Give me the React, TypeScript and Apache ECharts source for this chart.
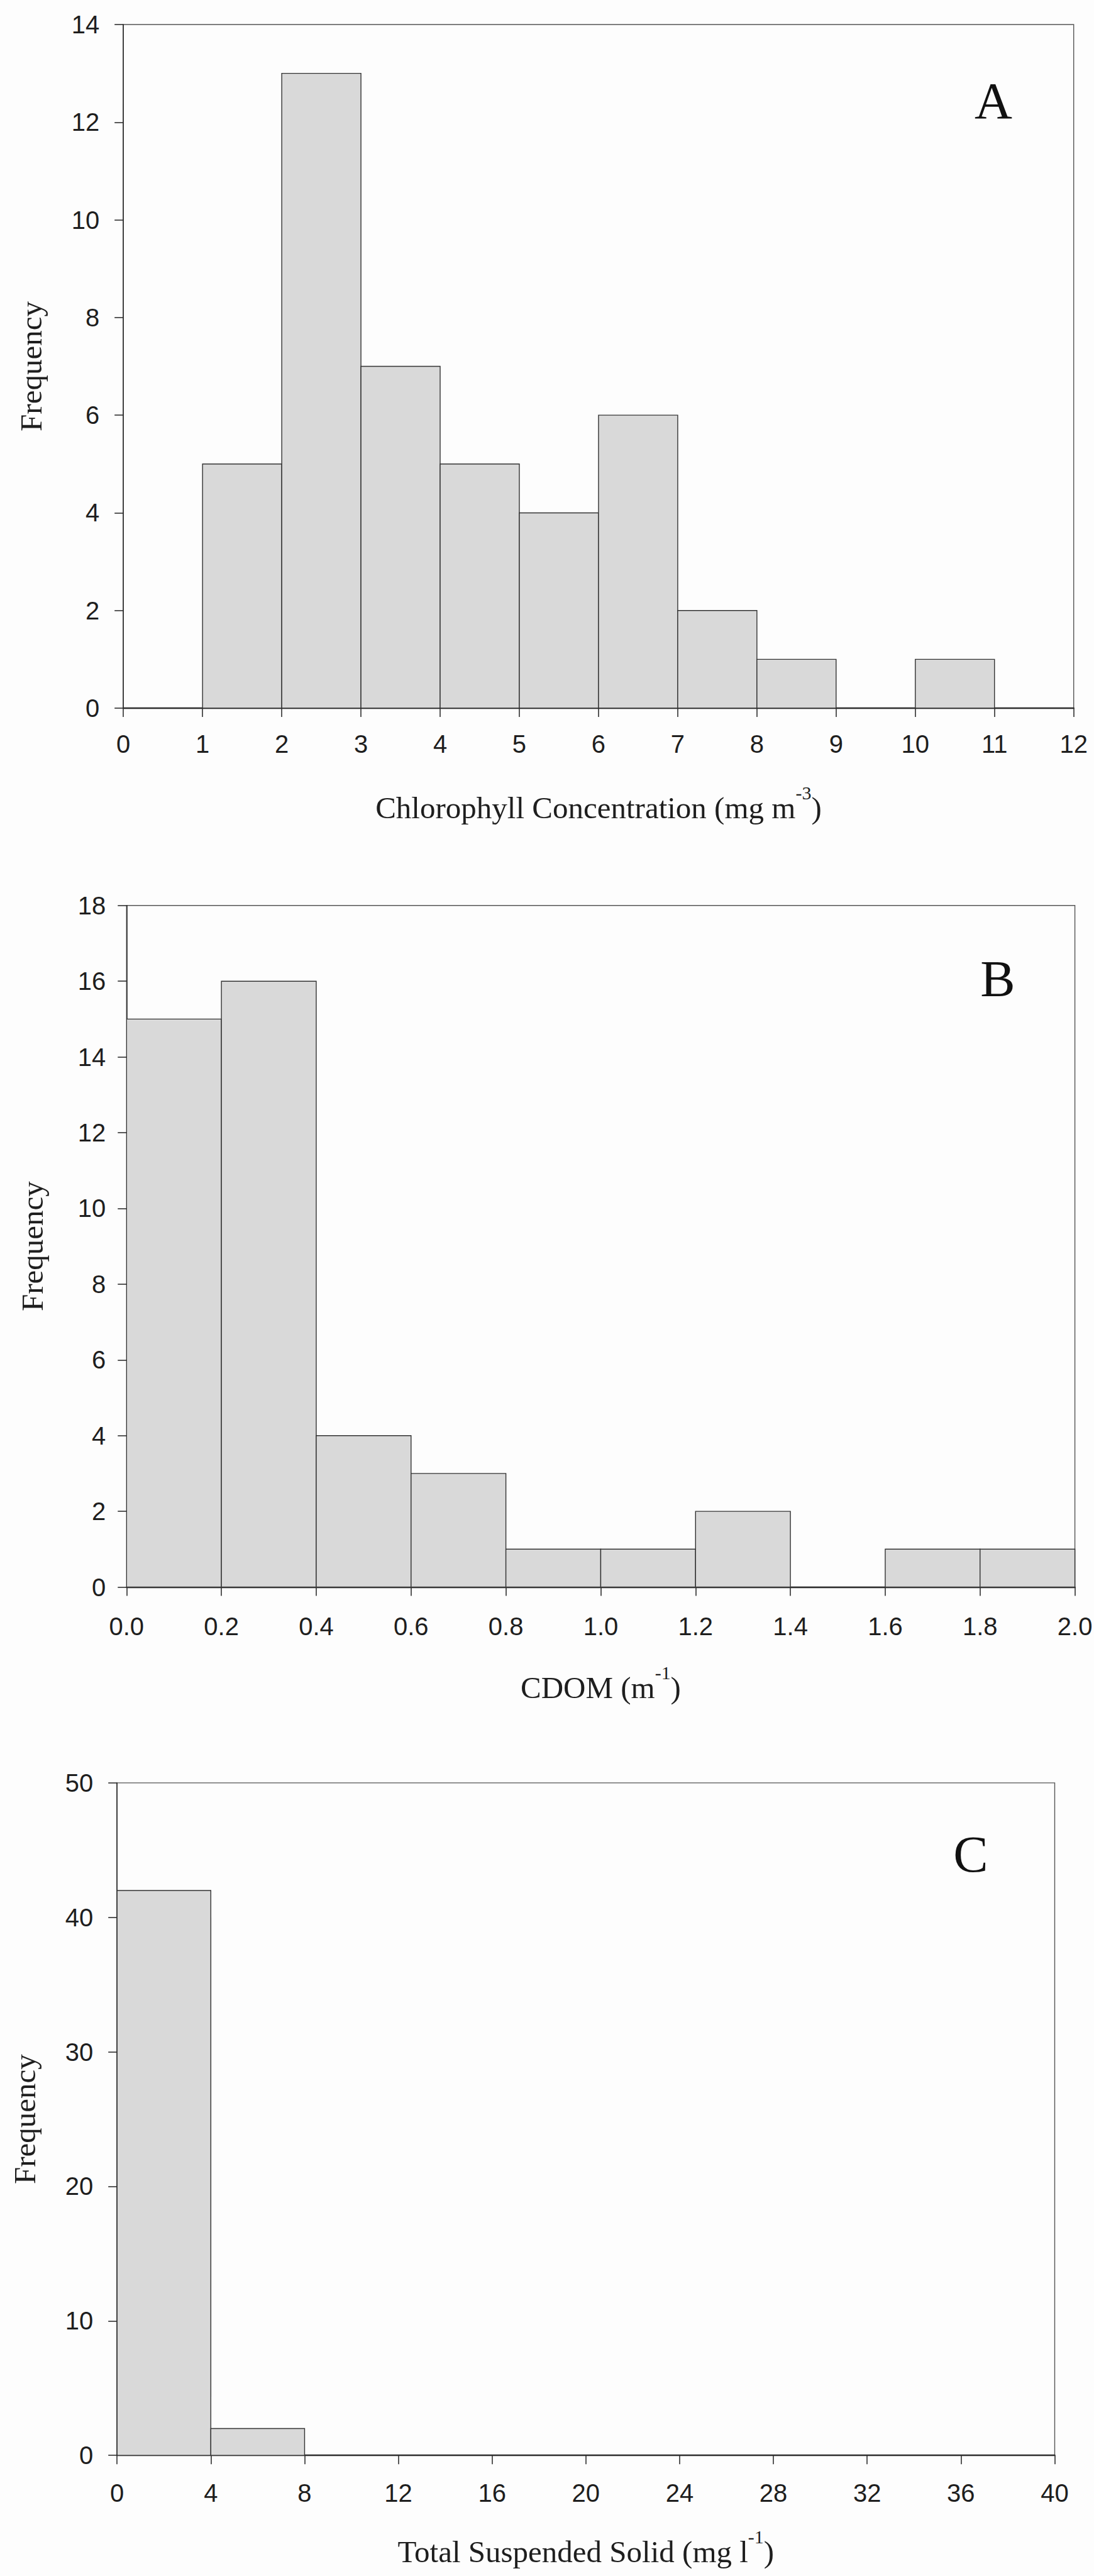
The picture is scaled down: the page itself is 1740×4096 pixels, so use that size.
import React, { useEffect, useRef } from 'react';
import * as echarts from 'echarts';

// ---- data ----
const chlEdges = [0, 1, 2, 3, 4, 5, 6, 7, 8, 9, 10, 11, 12];
const chlCounts = [0, 5, 13, 7, 5, 4, 6, 2, 1, 0, 1, 0];

const cdomEdges = [0, 0.2, 0.4, 0.6, 0.8, 1.0, 1.2, 1.4, 1.6, 1.8, 2.0];
const cdomCounts = [15, 16, 4, 3, 1, 1, 2, 0, 1, 1];

const tssEdges = [0, 4, 8, 12, 16, 20, 24, 28, 32, 36, 40];
const tssCounts = [42, 2, 0, 0, 0, 0, 0, 0, 0, 0];

const panelLetters = ['A', 'B', 'C'];
const yTitle = 'Frequency';
const xTitles = [
  '{m|Chlorophyll Concentration (mg m}{s|-3}{m|)}',
  '{m|CDOM (m}{s|-1}{m|)}',
  '{m|Total Suspended Solid (mg l}{s|-1}{m|)}',
];
const yMax = [14, 18, 50];
const yStep = [2, 2, 10];
const xMax = [12, 2, 40];
const xStep = [1, 0.2, 4];

const SANS = 'Liberation Sans, Arial, Helvetica, sans-serif';
const SERIF = 'Liberation Serif, Times New Roman, Times, serif';
const INK = '#1e1e1e';
const AXIS = '#2e2e2e';

function binsToData(edges: number[], counts: number[]) {
  return counts.map((c, i) => [edges[i], edges[i + 1], c]);
}

const renderBin = (params: any, api: any) => {
  const x0 = api.value(0);
  const x1 = api.value(1);
  const v = api.value(2);
  if (!v) return null;
  const p0 = api.coord([x0, 0]);
  const p1 = api.coord([x1, v]);
  return {
    type: 'rect',
    shape: { x: p0[0], y: p1[1], width: p1[0] - p0[0], height: p0[1] - p1[1] },
    style: { fill: '#d9d9d9', stroke: '#333', lineWidth: 1.4 },
  };
};

export default function App() {
  const ref = useRef<HTMLDivElement>(null);

  useEffect(() => {
    if (!ref.current) return;
    const chart = echarts.init(ref.current, null, { renderer: 'svg' });

    const grids = [
      { left: 196.2, top: 39, width: 1511.5, height: 1087 },
      { left: 201.3, top: 1439.8, width: 1508.3, height: 1083.7 },
      { left: 186.2, top: 2834.9, width: 1491.3, height: 1069.3 },
    ];
    const yLabelMargin = [38, 33, 38];
    const xLabelMargin = [37, 42, 40];
    const yNameGap = [122, 125, 122];
    const xNameGap = [119, 121, 114];
    const letterPos = [
      [1580, 159.5],
      [1587, 1555.5],
      [1544, 2948],
    ];

    const datasets = [
      binsToData(chlEdges, chlCounts),
      binsToData(cdomEdges, cdomCounts),
      binsToData(tssEdges, tssCounts),
    ];

    const option: any = {
      animation: false,
      backgroundColor: '#fdfdfd',
      grid: grids.map((g) => ({
        ...g,
        show: true,
        borderColor: '#555',
        borderWidth: 1.4,
        backgroundColor: 'transparent',
        containLabel: false,
        outerBoundsMode: 'none',
      })),
      xAxis: [0, 1, 2].map((i) => ({
        type: 'value',
        gridIndex: i,
        min: 0,
        max: xMax[i],
        interval: xStep[i],
        name: xTitles[i],
        nameLocation: 'middle',
        nameGap: xNameGap[i],
        nameTextStyle: {
          color: INK,
          fontFamily: SERIF,
          fontSize: 49,
          lineHeight: 78,
          rich: {
            m: { fontFamily: SERIF, fontSize: 49, lineHeight: 78, color: INK },
            s: { fontFamily: SERIF, fontSize: 30, lineHeight: 30, verticalAlign: 'top', color: INK },
          },
        },
        axisLine: { show: true, onZero: false, lineStyle: { color: AXIS, width: 2.4 } },
        axisTick: { show: true, inside: false, length: 14, lineStyle: { color: AXIS, width: 1.6 } },
        splitLine: { show: false },
        axisLabel: {
          show: true,
          margin: xLabelMargin[i],
          color: INK,
          fontFamily: SANS,
          fontSize: 40,
          formatter: i === 1 ? (v: number) => v.toFixed(1) : (v: number) => String(Math.round(v)),
        },
      })),
      yAxis: [0, 1, 2].map((i) => ({
        type: 'value',
        gridIndex: i,
        min: 0,
        max: yMax[i],
        interval: yStep[i],
        name: yTitle,
        nameLocation: 'middle',
        nameGap: yNameGap[i],
        nameRotate: 90,
        nameTextStyle: { color: INK, fontFamily: SERIF, fontSize: 49 },
        axisLine: { show: true, onZero: false, lineStyle: { color: AXIS, width: 1.6 } },
        axisTick: { show: true, inside: false, length: 14, lineStyle: { color: AXIS, width: 1.6 } },
        splitLine: { show: false },
        axisLabel: {
          show: true,
          margin: yLabelMargin[i],
          color: INK,
          fontFamily: SANS,
          fontSize: 40,
        },
      })),
      series: [0, 1, 2].map((i) => ({
        type: 'custom',
        xAxisIndex: i,
        yAxisIndex: i,
        renderItem: renderBin,
        encode: { x: [0, 1], y: 2 },
        data: datasets[i],
        clip: true,
        z: 2,
      })),
      graphic: panelLetters.map((t, i) => ({
        type: 'text',
        x: letterPos[i][0],
        y: letterPos[i][1],
        z: 10,
        style: {
          text: t,
          fill: '#111',
          fontFamily: SERIF,
          fontSize: 83,
          align: 'center',
          verticalAlign: 'middle',
          textAlign: 'center',
          textVerticalAlign: 'middle',
        },
      })),
    };

    chart.setOption(option);
    return () => {
      chart.dispose();
    };
  }, []);

  return (
    <div
      ref={ref}
      style={{ position: 'absolute', left: 0, top: 0, width: 1740, height: 4096 }}
    />
  );
}
